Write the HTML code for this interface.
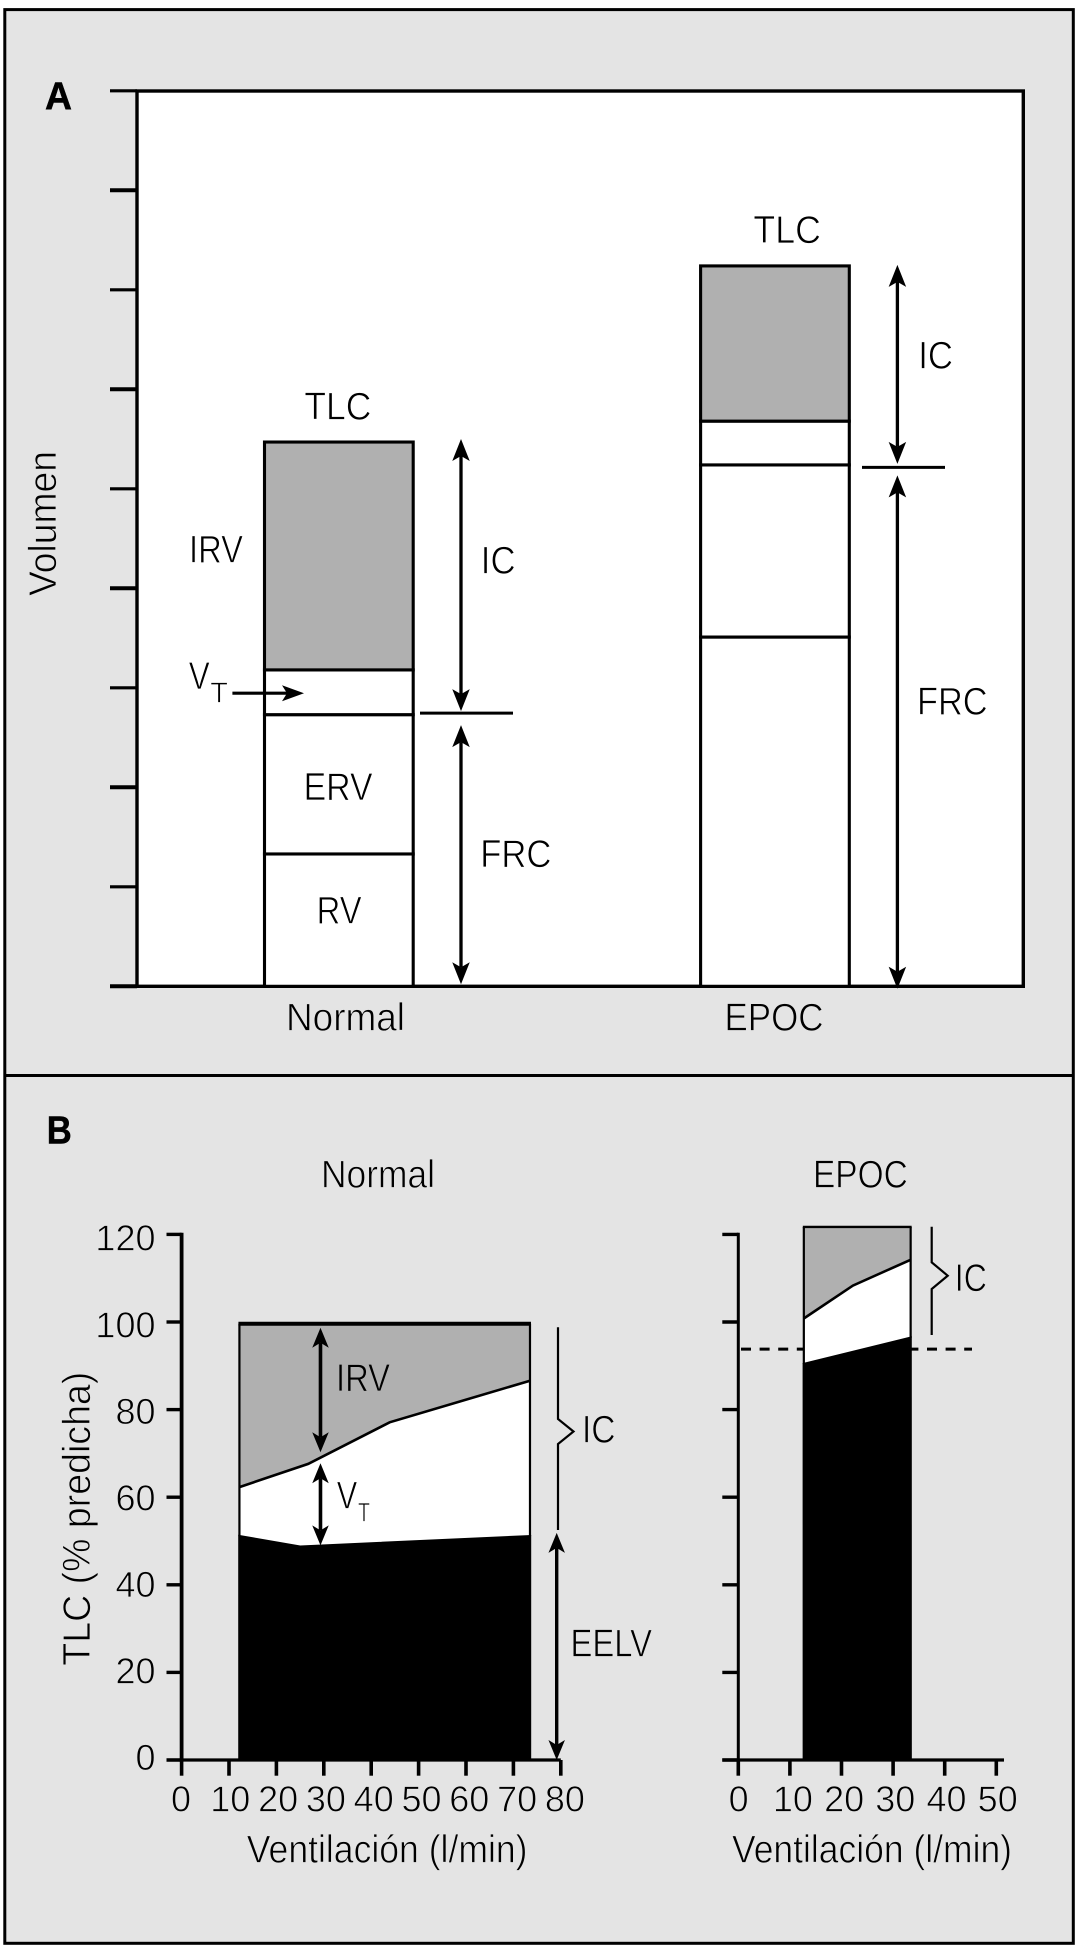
<!DOCTYPE html>
<html lang="es">
<head>
<meta charset="utf-8">
<title>Volúmenes pulmonares: Normal y EPOC</title>
<style>
html,body{margin:0;padding:0;background:#fff;width:1084px;height:1948px;overflow:hidden}
svg{display:block}
text{font-family:"Liberation Sans",Arial,sans-serif;font-size:39px;fill:#000}
.g{stroke:#e4e4e4;stroke-width:.75}
.w{stroke:#fff;stroke-width:.75}
.d{stroke:#b0b0b0;stroke-width:.75}
.b{font-weight:bold;stroke:#000;stroke-width:.5}
.n{font-size:36px}
</style>
</head>
<body>
<svg id="chart" xmlns="http://www.w3.org/2000/svg" width="1084" height="1948" viewBox="0 0 1084 1948">
  <rect x="4.8" y="9.6" width="1068.5" height="1933.7" fill="#e4e4e4" stroke="#000" stroke-width="3"/>
  <line x1="4.8" y1="1075.5" x2="1073.3" y2="1075.5" stroke="#000" stroke-width="3"/>
  <rect x="137" y="91" width="886.3" height="895.3" fill="#fff" stroke="#000" stroke-width="3.4"/>

  <g id="panelA"></g>
  <g id="panelB"></g>

  <text class="b" x="45" y="109.5" textLength="27" lengthAdjust="spacingAndGlyphs">A</text>
  <text class="g" transform="translate(56 596) rotate(-90)" textLength="145" lengthAdjust="spacingAndGlyphs">Volumen</text>
  <text class="w" x="304.4" y="419.4" textLength="67" lengthAdjust="spacingAndGlyphs">TLC</text>
  <text class="w" x="753.4" y="242.8" textLength="67.5" lengthAdjust="spacingAndGlyphs">TLC</text>
  <text class="w" x="918.2" y="368.5" textLength="34.8" lengthAdjust="spacingAndGlyphs">IC</text>
  <text class="w" x="189" y="562.4" textLength="54" lengthAdjust="spacingAndGlyphs">IRV</text>
  <text class="w" x="480.8" y="573.4" textLength="34.7" lengthAdjust="spacingAndGlyphs">IC</text>
  <text class="w" x="303.6" y="800" textLength="69" lengthAdjust="spacingAndGlyphs">ERV</text>
  <text class="w" x="316.6" y="923.3" textLength="45" lengthAdjust="spacingAndGlyphs">RV</text>
  <text class="w" x="480.2" y="867" textLength="71.2" lengthAdjust="spacingAndGlyphs">FRC</text>
  <text class="w" x="917" y="714.6" textLength="70.6" lengthAdjust="spacingAndGlyphs">FRC</text>
  <text class="w" x="188.7" y="689"><tspan textLength="21" lengthAdjust="spacingAndGlyphs">V</tspan><tspan x="210.2" y="702.5" style="font-size:29px">T</tspan></text>
  <g>
    <line x1="232.4" y1="693.2" x2="290" y2="693.2" stroke="#000" stroke-width="3.2"/>
    <polygon points="304,693.2 282,685.2 287,693.2 282,701.2" fill="#000"/>
  </g>
  <text class="g" x="286" y="1030.4" textLength="119" lengthAdjust="spacingAndGlyphs">Normal</text>
  <text class="g" x="724.5" y="1030.4" textLength="99" lengthAdjust="spacingAndGlyphs">EPOC</text>

  <text class="b" x="46.8" y="1143.3" textLength="25" lengthAdjust="spacingAndGlyphs">B</text>
  <text class="g" x="321" y="1187.3" textLength="114" lengthAdjust="spacingAndGlyphs">Normal</text>
  <text class="g" x="813" y="1187.7" textLength="94.7" lengthAdjust="spacingAndGlyphs">EPOC</text>
  <text class="g" transform="translate(89.8 1665.7) rotate(-90)" textLength="294" lengthAdjust="spacingAndGlyphs">TLC (% predicha)</text>
  <text class="g" x="246.8" y="1862.7" textLength="280.7" lengthAdjust="spacingAndGlyphs">Ventilación (l/min)</text>
  <text class="g" x="732" y="1862.3" textLength="280" lengthAdjust="spacingAndGlyphs">Ventilación (l/min)</text>
  <text class="d" x="336" y="1391" textLength="54" lengthAdjust="spacingAndGlyphs">IRV</text>
  <text class="w" x="336.7" y="1508.3"><tspan textLength="20.5" lengthAdjust="spacingAndGlyphs">V</tspan><tspan x="358" y="1521.7" style="font-size:27px" textLength="12" lengthAdjust="spacingAndGlyphs">T</tspan></text>
  <polyline points="558,1327.3 558,1419 573.5,1431.5 558,1444 558,1530" fill="none" stroke="#000" stroke-width="2.2"/>
  <polyline points="931.7,1226.7 931.7,1262.3 947.7,1275.7 931.7,1289 931.7,1335" fill="none" stroke="#000" stroke-width="2.2"/>
  <text class="g" x="582" y="1442.7" textLength="33.5" lengthAdjust="spacingAndGlyphs">IC</text>
  <text class="g" x="954.8" y="1291" textLength="32" lengthAdjust="spacingAndGlyphs">IC</text>
  <text class="g" x="570.5" y="1656.7" textLength="81.5" lengthAdjust="spacingAndGlyphs">EELV</text>
</svg>

<script>
// ---------- Panel A data (volume units, one tick = 1 unit) ----------
const volumeTicks = [0, 1, 2, 3, 4, 5, 6, 7, 8, 9];
const barCategories = ['normal', 'epoc'];
const rvTop = [1.33, 3.51];
const frcTop = [2.73, 5.24];
const tidalTop = [3.18, 5.68];
const tlcTop = [5.47, 7.24];
const frcMarker = [2.745, 5.215];

// ---------- Panel B data (% predicted TLC vs. ventilation) ----------
const pctTicks = [0, 20, 40, 60, 80, 100, 120];
const ventTicksNormal = [0, 10, 20, 30, 40, 50, 60, 70, 80];
const ventTicksEpoc = [0, 10, 20, 30, 40, 50];
const normalEelvVent = [12.2, 25, 73.5];
const normalEelv = [51.1, 48.7, 51.1];
const normalInspVent = [12.2, 26.7, 43.9, 73.5];
const normalInsp = [62.3, 67.6, 77.1, 86.6];
const normalTlc = [99.6];
const epocEelvVent = [12.7, 33.4];
const epocEelv = [90.4, 96.4];
const epocInspVent = [12.7, 22.2, 33.4];
const epocInsp = [100.8, 108.3, 114.2];
const epocTlc = [121.7];
const epocRestLevel = [93.8];

const NS = 'http://www.w3.org/2000/svg';
function mk(tag, attrs, parent) {
  const e = document.createElementNS(NS, tag);
  for (const k in attrs) e.setAttribute(k, attrs[k]);
  parent.appendChild(e);
  return e;
}
function arrow(parent, x, y1, y2, name, doubleHead, hl, hw, sw) {
  const g = mk('g', {}, parent);
  
  
  mk('line', { x1: x, y1: y1 + hl - 5, x2: x, y2: y2 - hl + 5, stroke: '#000', 'stroke-width': sw }, g);
  mk('polygon', { points: `${x},${y2} ${x - hw / 2},${y2 - hl} ${x},${y2 - hl + 5} ${x + hw / 2},${y2 - hl}`, fill: '#000' }, g);
  if (doubleHead) {
    mk('polygon', { points: `${x},${y1} ${x - hw / 2},${y1 + hl} ${x},${y1 + hl - 5} ${x + hw / 2},${y1 + hl}`, fill: '#000' }, g);
  }
  return g;
}

// ---------- Panel A axes ----------
const yA = v => 986.3 - 99.5 * v;
const barLeft = i => 264.5 + 436.1 * i;
const barWidth = 148.7;
const panelA = document.getElementById('panelA');

volumeTicks.forEach((v, i) => {
  const t = mk('line', { x1: 110, x2: 137, y1: yA(v), y2: yA(v), stroke: '#000', 'stroke-width': i % 2 === 0 ? 4 : 3.2 }, panelA);
  
  
});

barCategories.forEach((cat, i) => {
  const segments = [
    ['rv', 0, rvTop[i], '#fff'],
    ['erv', rvTop[i], frcTop[i], '#fff'],
    ['vt', frcTop[i], tidalTop[i], '#fff'],
    ['irv', tidalTop[i], tlcTop[i], '#b0b0b0']
  ];
  segments.forEach(s => {
    const r = mk('rect', { x: barLeft(i), y: yA(s[2]), width: barWidth, height: yA(s[1]) - yA(s[2]), fill: s[3], stroke: '#000', 'stroke-width': 3.1 }, panelA);
    
    
  });
  const mx = i === 0 ? 420 : 862;
  const mw = i === 0 ? 93 : 83;
  const m = mk('line', { x1: mx, x2: mx + mw, y1: yA(frcMarker[i]), y2: yA(frcMarker[i]), stroke: '#000', 'stroke-width': 3 }, panelA);
  
  
  const ax = i === 0 ? 461 : 897.4;
  arrow(panelA, ax, yA(tlcTop[i]) - (i === 0 ? 3 : 1), yA(frcMarker[i]) - (i === 0 ? 2 : 3.5), 'ic-arrow-' + cat, true, 22, 17.5, 3.3);
  arrow(panelA, ax, yA(frcMarker[i]) + (i === 0 ? 12 : 8), yA(0) + (i === 0 ? -2 : 2.4), 'frc-arrow-' + cat, true, 22, 17.5, 3.3);
});

// ---------- Panel B ----------
const panelB = document.getElementById('panelB');
const yB = v => 1760 - 4.38 * v;
const xN = v => 181.6 + 4.74 * v;
const xE = v => 738.3 + 5.16 * v;
const yLabelBase = v => 1770 - 4.3275 * v;
const xLabelN = v => v === 0 ? 181 : 182.5 + 4.78 * v;
const xLabelE = v => v === 0 ? 738.7 : 741.7 + 5.12 * v;

function axes(xf, xTicks, xLabelFn, showY, left, right, sw, key) {
  pctTicks.forEach(v => {
    const t = mk('line', { x1: left, x2: xf(0), y1: yB(v), y2: yB(v), stroke: '#000', 'stroke-width': 3.4 }, panelB);
    
    
    if (showY) {
      const l = mk('text', { x: 155.5, y: yLabelBase(v), 'text-anchor': 'end', class: 'g n' }, panelB);
      l.textContent = v;
      
      
    }
  });
  const ya = mk('line', { x1: xf(0), x2: xf(0), y1: yB(120) - 1.7, y2: yB(0) + 1.7, stroke: '#000', 'stroke-width': sw }, panelB);
  
  
  const xa = mk('line', { x1: left, x2: right, y1: yB(0), y2: yB(0), stroke: '#000', 'stroke-width': 3.2 }, panelB);
  
  
  xTicks.forEach(v => {
    const t = mk('line', { x1: xf(v), x2: xf(v), y1: yB(0), y2: 1775.7, stroke: '#000', 'stroke-width': 3.6 }, panelB);
    
    
    const l = mk('text', { x: xLabelFn(v), y: 1811.3, 'text-anchor': 'middle', class: 'g n' }, panelB);
    l.textContent = v;
    
    
  });
}

function pts(xs, ys, xf) {
  return xs.map((x, i) => xf(x).toFixed(1) + ',' + yB(ys[i]).toFixed(1));
}

function areas(xf, eelvX, eelvY, inspX, inspY, tlc, topW, key) {
  const x0 = xf(inspX[0]);
  const x1 = xf(inspX[inspX.length - 1]);
  const gray = mk('polygon', { points: [`${x0},${yB(tlc)}`, `${x1},${yB(tlc)}`].concat(pts(inspX, inspY, xf).reverse()).join(' '), fill: '#b0b0b0' }, panelB);
  
  
  const white = mk('polygon', { points: pts(inspX, inspY, xf).concat(pts(eelvX, eelvY, xf).reverse()).join(' '), fill: '#fff' }, panelB);
  
  
  const black = mk('polygon', { points: pts(eelvX, eelvY, xf).concat([`${xf(eelvX[eelvX.length - 1])},${yB(0)}`, `${xf(eelvX[0])},${yB(0)}`]).join(' '), fill: '#000', stroke: '#000', 'stroke-width': 2.4 }, panelB);
  
  
  const il = mk('polyline', { points: pts(inspX, inspY, xf).join(' '), fill: 'none', stroke: '#000', 'stroke-width': 2.6 }, panelB);
  
  
  const le = mk('line', { x1: x0, x2: x0, y1: yB(tlc), y2: yB(eelvY[0]), stroke: '#000', 'stroke-width': 2.2 }, panelB);
  
  
  const re = mk('line', { x1: x1, x2: x1, y1: yB(tlc), y2: yB(eelvY[eelvY.length - 1]), stroke: '#000', 'stroke-width': 2.2 }, panelB);
  
  
  const tl = mk('line', { x1: x0 - 1, x2: x1 + 1, y1: yB(tlc), y2: yB(tlc), stroke: '#000', 'stroke-width': topW }, panelB);
  
  
}

axes(xN, ventTicksNormal, xLabelN, true, 166.5, xN(80), 3.8, 'normal');
axes(xE, ventTicksEpoc, xLabelE, false, 722.3, 1004, 3, 'epoc');

const dash = mk('line', { x1: 741, x2: 972, y1: yB(epocRestLevel[0]), y2: yB(epocRestLevel[0]), stroke: '#000', 'stroke-width': 3, 'stroke-dasharray': '10 8.6' }, panelB);



areas(xN, normalEelvVent, normalEelv, normalInspVent, normalInsp, normalTlc[0], 4, 'normal');
areas(xE, epocEelvVent, epocEelv, epocInspVent, epocInsp, epocTlc[0], 2.4, 'epoc');

const tidalArrowX = xN(29.3);
arrow(panelB, tidalArrowX, yB(normalTlc[0]) + 4, yB(68.9) - 6, 'irv-arrow', true, 20, 16.5, 3.6);
arrow(panelB, tidalArrowX, yB(68.9) + 5, yB(49), 'vt-arrow', true, 20, 16.5, 3.6);
arrow(panelB, 556.7, yB(normalEelv[2]) - 3.3, yB(0), 'eelv-arrow', true, 20, 16.5, 3.4);
</script>
</body>
</html>
